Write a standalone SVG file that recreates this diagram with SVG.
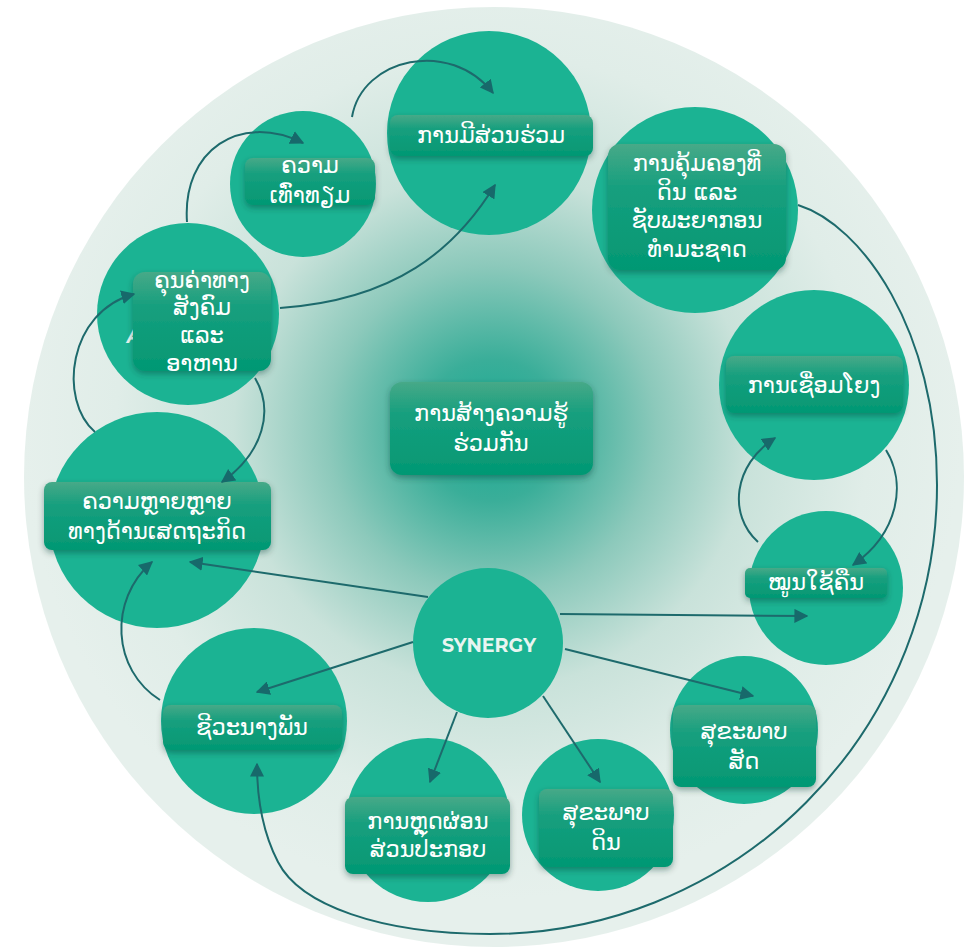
<svg xmlns="http://www.w3.org/2000/svg" width="980" height="948" viewBox="0 0 980 948">
<defs>
<radialGradient id="bgGrad" cx="492" cy="430" r="470" gradientUnits="userSpaceOnUse">
<stop offset="0" stop-color="#17aa92"/>
<stop offset="0.15" stop-color="#3aae99"/>
<stop offset="0.35" stop-color="#8cc9bb"/>
<stop offset="0.55" stop-color="#c9e2da"/>
<stop offset="0.8" stop-color="#e0ede8"/>
<stop offset="1" stop-color="#e6f0ec"/>
</radialGradient>
<linearGradient id="boxGrad" x1="0" y1="0" x2="0" y2="1">
<stop offset="0" stop-color="#47a988"/>
<stop offset="0.35" stop-color="#169f7e"/>
<stop offset="1" stop-color="#039873"/>
</linearGradient>
<filter id="shadow" x="-20%" y="-20%" width="140%" height="150%">
<feDropShadow dx="0" dy="3" stdDeviation="3" flood-color="#0b3b33" flood-opacity="0.4"/>
</filter>
<marker id="arrow" viewBox="0 0 10 10" refX="9" refY="5" markerWidth="7" markerHeight="7" markerUnits="strokeWidth" orient="auto">
<path d="M0,0 L10,5 L0,10 z" fill="#17696b"/>
</marker>
</defs>
<style>
.circ{fill:#1bb393}
.box{fill:url(#boxGrad);filter:url(#shadow)}
.lbl{font-family:"DejaVu Sans","Noto Sans Lao","Noto Sans",sans-serif;font-size:22.5px;fill:#ffffff;text-anchor:middle}
.conn{fill:none;stroke:#1d6a6c;stroke-width:2;marker-end:url(#arrow)}
.syn{font-family:"Montserrat","Open Sans","Liberation Sans",sans-serif;font-size:19px;font-weight:700;fill:#e9f5f1;text-anchor:middle}
</style>
<rect width="980" height="948" fill="#ffffff"/>
<circle cx="494" cy="477" r="470" fill="url(#bgGrad)"/>

<g id="n-participation">
<circle class="circ" cx="489" cy="133" r="102"/>
<rect class="box" x="390" y="115" width="203" height="41" rx="8"/>
<text class="lbl" x="491" y="143">ການມີສ່ວນຮ່ວມ</text>
</g>

<g id="n-equity">
<circle class="circ" cx="303" cy="184" r="73"/>
<rect class="box" x="245" y="158" width="130" height="47" rx="8"/>
<text class="lbl" x="310" y="173">ຄວາມ</text>
<text class="lbl" x="310" y="203">ເທົ່າທຽມ</text>
</g>

<g id="n-social-values">
<circle class="circ" cx="188" cy="314" r="91"/>
<text x="127" y="343" font-family="Open Sans, Liberation Sans, sans-serif" font-size="20" font-style="italic" font-weight="700" fill="#e6f3ef">A</text>
<rect class="box" x="133" y="272" width="138" height="99" rx="12"/>
<text class="lbl" x="202" y="288">ຄຸນຄ່າທາງ</text>
<text class="lbl" x="202" y="315">ສັງຄົມ</text>
<text class="lbl" x="202" y="343">ແລະ</text>
<text class="lbl" x="202" y="371">ອາຫານ</text>
</g>

<g id="n-economic-diversity">
<circle class="circ" cx="157" cy="520" r="108"/>
<rect class="box" x="44" y="482" width="227" height="68" rx="8"/>
<text class="lbl" x="157" y="509">ຄວາມຫຼາຍຫຼາຍ</text>
<text class="lbl" x="157" y="539">ທາງດ້ານເສດຖະກິດ</text>
</g>

<g id="n-biodiversity">
<circle class="circ" cx="254" cy="721" r="93"/>
<rect class="box" x="163" y="705" width="179" height="45" rx="8"/>
<text class="lbl" x="252" y="735">ຊີວະນາງພັນ</text>
</g>

<g id="n-input-reduction">
<circle class="circ" cx="428" cy="820" r="82"/>
<rect class="box" x="345" y="797" width="165" height="77" rx="8"/>
<text class="lbl" x="428" y="829">ການຫຼຸດຜ່ອນ</text>
<text class="lbl" x="428" y="857">ສ່ວນປະກອບ</text>
</g>

<g id="n-soil-health">
<circle class="circ" cx="598" cy="815" r="76"/>
<rect class="box" x="539" y="789" width="134" height="78" rx="8"/>
<text class="lbl" x="606" y="820">ສຸຂະພາບ</text>
<text class="lbl" x="606" y="850">ດິນ</text>
</g>

<g id="n-animal-health">
<circle class="circ" cx="744" cy="730" r="74"/>
<rect class="box" x="673" y="705" width="143" height="82" rx="8"/>
<text class="lbl" x="744" y="739">ສຸຂະພາບ</text>
<text class="lbl" x="744" y="769">ສັດ</text>
</g>

<g id="n-recycling">
<circle class="circ" cx="826" cy="588" r="77"/>
<rect class="box" x="745" y="568" width="142" height="30" rx="5"/>
<text class="lbl" x="816" y="590">ໝູນໃຊ້ຄືນ</text>
</g>

<g id="n-connectivity">
<circle class="circ" cx="814" cy="385" r="95"/>
<rect class="box" x="726" y="356" width="177" height="57" rx="8"/>
<text class="lbl" x="814" y="393">ການເຊື່ອມໂຍງ</text>
</g>

<g id="n-land-governance">
<circle class="circ" cx="695" cy="210" r="103"/>
<rect class="box" x="608" y="144" width="178" height="126" rx="12"/>
<text class="lbl" x="697" y="171">ການຄຸ້ມຄອງທີ່</text>
<text class="lbl" x="697" y="200">ດິນ ແລະ</text>
<text class="lbl" x="697" y="228">ຊັບພະຍາກອນ</text>
<text class="lbl" x="697" y="257">ທຳມະຊາດ</text>
</g>

<g id="n-cocreation">
<rect class="box" x="390" y="382" width="203" height="93" rx="12"/>
<text class="lbl" x="491" y="421">ການສ້າງຄວາມຮູ້</text>
<text class="lbl" x="491" y="451">ຮ່ວມກັນ</text>
</g>

<g id="n-synergy">
<circle class="circ" cx="488" cy="643" r="75"/>
<text class="syn" x="489" y="652">SYNERGY</text>
</g>

<g id="connectors">
<path class="conn" d="M187,222 C182,150 240,112 303,143"/>
<path class="conn" d="M352,117 C362,58 450,38 493,93"/>
<path class="conn" d="M280,308 C395,300 455,250 495,185"/>
<path class="conn" d="M95,432 C58,400 68,312 134,294"/>
<path class="conn" d="M255,378 C274,410 264,452 222,482"/>
<path class="conn" d="M160,700 C112,670 108,600 152,562"/>
<path class="conn" d="M428,597 L190,562"/>
<path class="conn" d="M413,642 L257,692"/>
<path class="conn" d="M457,712 L430,782"/>
<path class="conn" d="M543,696 L600,782"/>
<path class="conn" d="M565,649 L753,696"/>
<path class="conn" d="M560,614 L807,616"/>
<path class="conn" d="M758,542 C728,515 733,465 775,438"/>
<path class="conn" d="M886,450 C906,482 900,532 853,565"/>
<path class="conn" d="M798,205 C862,225 937,330 937,485 A447 449 0 0 1 490,934 C380,934 300,905 278,862 C264,835 257,800 257,764"/>
</g>
</svg>
